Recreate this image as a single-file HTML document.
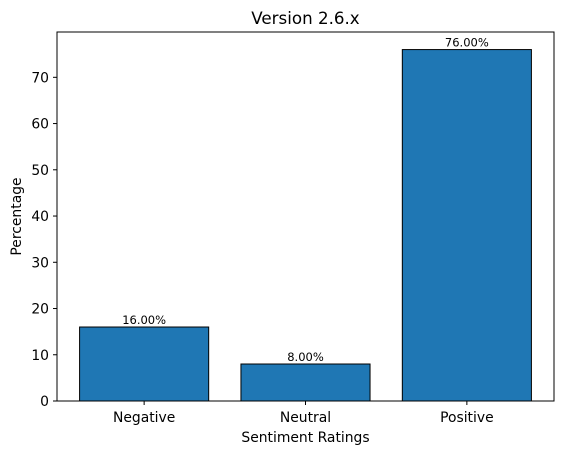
<!DOCTYPE html>
<html><head><meta charset="utf-8"><style>
body{margin:0;background:#fff;}
svg{font-family:"DejaVu Sans","Liberation Sans",sans-serif;}
</style></head><body>
<svg id="chart" width="562" height="455" viewBox="0 0 562 455">
<text x="305.5" y="24" text-anchor="middle" font-size="16.7">Version 2.6.x</text>
<g id="bars"></g>
<g id="yticks"></g>
<g id="xticks"></g>
<rect x="57" y="32" width="497" height="369" fill="none" stroke="#000" stroke-width="1"/>
<text x="305.5" y="442" text-anchor="middle" font-size="13.9">Sentiment Ratings</text>
<text transform="translate(21,216.5) rotate(-90)" text-anchor="middle" font-size="13.9">Percentage</text>
</svg>
<script>
const categories=["Negative","Neutral","Positive"];
const values=[16,8,76];
const valueLabels=["16.00%","8.00%","76.00%"];
const yTicks=[0,10,20,30,40,50,60,70];
const L=57,R=554,T=32,B=401;
const xmin=-0.54,xmax=2.54,ymax=79.8;
const sx=v=>L+(v-xmin)/(xmax-xmin)*(R-L);
const sy=v=>B-v/ymax*(B-T);
const NS="http://www.w3.org/2000/svg";
function mk(tag,attrs,parent){const e=document.createElementNS(NS,tag);for(const k in attrs)e.setAttribute(k,attrs[k]);parent.appendChild(e);return e;}
const gb=document.getElementById('bars'),gy=document.getElementById('yticks'),gx=document.getElementById('xticks');
categories.forEach((c,i)=>{
 const x0=sx(i-0.4),x1=sx(i+0.4),y=sy(values[i]);
 const r=mk('rect',{x:x0,y:y,width:x1-x0,height:B-y,fill:'#1f77b4',stroke:'#000','stroke-width':1},gb);
 
 
 const t=mk('text',{x:sx(i),y:y-3,'text-anchor':'middle','font-size':11.5},gb);
 t.textContent=valueLabels[i];
 
 
 mk('line',{x1:sx(i),x2:sx(i),y1:B,y2:B+4,stroke:'#000'},gx);
 const xt=mk('text',{x:sx(i),y:B+21,'text-anchor':'middle','font-size':13.9},gx);
 xt.textContent=c;
 
 
});
yTicks.forEach(v=>{
 mk('line',{x1:L-4,x2:L,y1:sy(v),y2:sy(v),stroke:'#000'},gy);
 const t=mk('text',{x:L-8,y:sy(v)+5,'text-anchor':'end','font-size':13.9},gy);
 t.textContent=v;
 
 
});
</script>
</body></html>
